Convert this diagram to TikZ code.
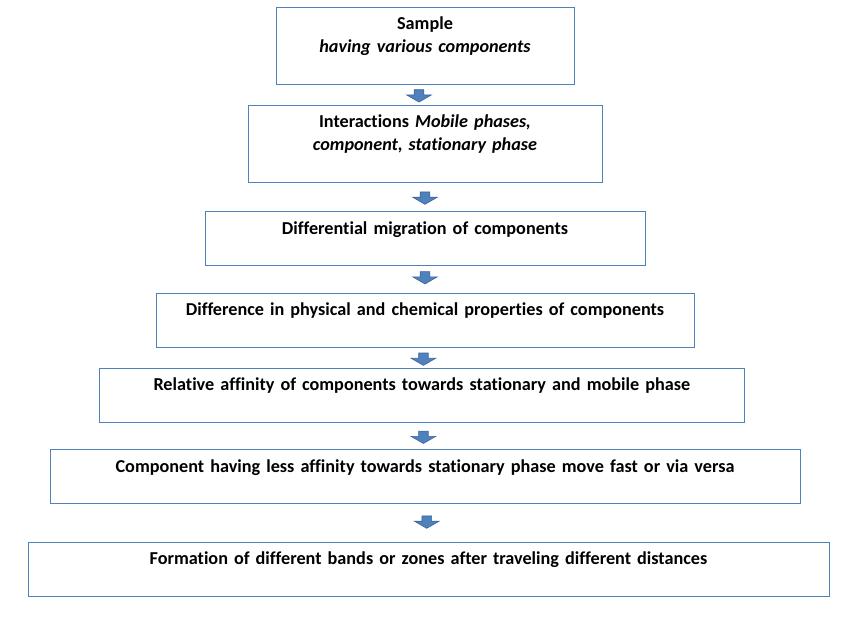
\documentclass[tikz,border=0pt]{standalone}
\usepackage{fontspec}
\setmainfont[Ligatures=NoCommon]{Carlito}
\usetikzlibrary{shapes.arrows}
\definecolor{boxblue}{HTML}{4F81BD}
\definecolor{arrowline}{HTML}{3A6499}
\tikzset{
  stage/.style={draw=boxblue, line width=0.9pt, align=center, inner sep=0pt,
    text width=#1, text height=22.5pt, text depth=31.5pt,
    font=\bfseries\fontsize{18.2}{23}\selectfont},
  tallstage/.style={stage=#1, text depth=54.5pt},
  flowarrow/.style={single arrow, draw=arrowline, fill=boxblue, line width=0.6pt,
    inner sep=4.5pt, minimum height=10pt, single arrow head extend=7.5pt,
    single arrow tip angle=120, shape border rotate=270}
}
\begin{document}
\begin{tikzpicture}[x=1pt, y=-1pt]
  \def\Xc{425};
  \useasboundingbox (0,0) rectangle (850,637);

  % stages
  \node[tallstage=298pt] (sample) at (\Xc, 45.5)
    {Sample\\ \textit{having various components}};
  \node[tallstage=354pt] (inter) at (\Xc, 143.5)
    {Interactions \textit{Mobile phases,}\\ \textit{component, stationary phase}};
  \node[stage=440pt] (migr) at (\Xc, 238.5) {Differential migration of components};
  \node[stage=538pt] (diff) at (\Xc, 320.3) {Difference in physical and chemical properties of components};
  \node[stage=645pt] (affin) at (421.8, 395.3) {Relative affinity of components towards stationary and mobile phase};
  \node[stage=750pt] (move) at (\Xc, 476.5) {Component having less affinity towards stationary phase move fast or via versa};
  \node[stage=801pt] (bands) at (428.5, 569) {Formation of different bands or zones after traveling different distances};

  % arrows
  \path (sample.south) -- node[flowarrow, xshift=-6pt] (a1) {} (inter.north);
  \path (inter.south) -- node[flowarrow] (a2) {} (migr.north);
  \path (migr.south) -- node[flowarrow, yshift=3pt] (a3) {} (diff.north);
  \path (diff.south) -- node[flowarrow] (a4) {} (affin.north);
  \path (affin.south) -- node[flowarrow] (a5) {} (move.north);
  \path (move.south) -- node[flowarrow, yshift=2pt] (a6) {} (bands.north);
\end{tikzpicture}
\end{document}
